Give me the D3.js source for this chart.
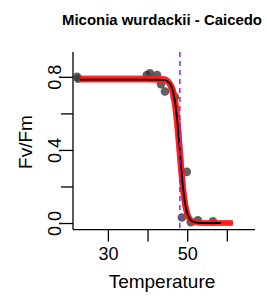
<!DOCTYPE html>
<html><head><meta charset="utf-8">
<script src="https://cdn.jsdelivr.net/npm/d3@7"></script>
<style>body{margin:0;background:#fff}svg{display:block}text{font-family:"Liberation Sans",Arial,sans-serif;fill:#000}</style>
</head><body><div id="chart"></div>
<script>
const title = "Miconia wurdackii - Caicedo";
const xLabel = "Temperature";
const yLabel = "Fv/Fm";
const xTicks = [30, 40, 50, 60];
const xTickLabels = ["30", "", "50", ""];
const yTicks = [0, 0.2, 0.4, 0.6, 0.8];
const yTickLabels = ["0.0", "", "0.4", "", "0.8"];
const t50 = 48.15;

// observed measurements
const obsTemp  = [22.2, 22.5, 39.8, 40.6, 42.4, 43.4, 44.4, 46.9, 49.9, 48.65, 50.9, 52.7, 56.5];
const obsFvFm  = [0.80, 0.79, 0.81, 0.82, 0.81, 0.76, 0.72, 0.69, 0.28, 0.03, 0.005, 0.015, 0.01];

// fitted curve (black)
const fitTemp = [23, 40, 44, 45, 46, 46.5, 47, 47.5, 48, 48.5, 49, 49.5, 50, 50.5, 51, 52, 54, 58.5];
const fitFvFm = [0.785, 0.785, 0.783, 0.776, 0.748, 0.714, 0.654, 0.560, 0.434, 0.298, 0.183, 0.103, 0.055, 0.028, 0.014, 0.004, 0.0, 0.0];

// bootstrap curves (red)
const bootTemp = [23, 40, 44, 45, 46, 46.5, 47, 47.5, 48, 48.5, 49, 49.5, 50, 50.5, 51, 52, 54, 61.5];
const bootA = [0.790, 0.790, 0.783, 0.764, 0.702, 0.638, 0.542, 0.421, 0.295, 0.187, 0.110, 0.062, 0.033, 0.018, 0.010, 0.003, 0.0, 0.0];
const bootB = [0.780, 0.780, 0.779, 0.776, 0.765, 0.748, 0.715, 0.654, 0.554, 0.419, 0.277, 0.160, 0.085, 0.043, 0.021, 0.005, 0.0, 0.0];
const bootC = [0.800, 0.800, 0.798, 0.792, 0.763, 0.723, 0.647, 0.524, 0.368, 0.222, 0.117, 0.058, 0.027, 0.012, 0.006, 0.001, 0.0, 0.0];
const bootM = [0.785, 0.785, 0.783, 0.776, 0.748, 0.714, 0.654, 0.560, 0.434, 0.298, 0.183, 0.103, 0.055, 0.028, 0.014, 0.004, 0.0, 0.0];

const W = 267, H = 296;
const svg = d3.select("#chart").append("svg").attr("width", W).attr("height", H);

const x = d3.scaleLinear().domain([21.2, 67.1]).range([73, 255]);
const y = d3.scaleLinear().domain([-0.036, 0.936]).range([229.6, 52]);

// title
svg.append("text").attr("x", 162).attr("y", 25).attr("text-anchor", "middle")
  .attr("font-weight", "bold").attr("font-size", 14).attr("textLength", 200)
  .attr("lengthAdjust", "spacingAndGlyphs").text(title);

// axes
const xAxis = d3.axisBottom(x).tickValues(xTicks).tickSize(12).tickSizeOuter(0)
  .tickFormat((d, i) => xTickLabels[i]);
const gx = svg.append("g").attr("transform", `translate(0,${y.range()[0]})`).call(xAxis);
gx.select(".domain").attr("stroke", "#000").attr("stroke-width", 1.3);
gx.selectAll(".tick line").attr("stroke", "#000").attr("stroke-width", 1.3);
gx.selectAll(".tick text").attr("font-size", 18).attr("font-family", "Liberation Sans, Arial, sans-serif")
  .attr("y", 0).attr("dy", null).attr("transform", "translate(0,30)").attr("fill", "#000");

const yAxis = d3.axisLeft(y).tickValues(yTicks).tickSize(12).tickSizeOuter(0)
  .tickFormat((d, i) => yTickLabels[i]);
const gy = svg.append("g").attr("transform", `translate(${x.range()[0]},0)`).call(yAxis);
gy.select(".domain").attr("stroke", "#000").attr("stroke-width", 1.3);
gy.selectAll(".tick line").attr("stroke", "#000").attr("stroke-width", 1.3);
gy.selectAll(".tick text").attr("font-size", 18).attr("font-family", "Liberation Sans, Arial, sans-serif")
  .attr("x", null).attr("dy", null).attr("text-anchor", "middle")
  .attr("transform", "translate(-12,0) rotate(-90)").attr("fill", "#000");
gx.select(".domain").attr("d", `M${x.range()[0]},0H${x.range()[1]}`);
gy.select(".domain").attr("d", `M0,${y.range()[0]}V${y.range()[1]}`);

// axis labels
svg.append("text").attr("x", 162).attr("y", 288).attr("text-anchor", "middle")
  .attr("font-size", 19).text(xLabel);
svg.append("text").attr("transform", "translate(32,142) rotate(-90)").attr("text-anchor", "middle")
  .attr("font-size", 19).text(yLabel);

// points
svg.append("g").selectAll("circle").data(obsTemp).join("circle")
  .attr("cx", d => x(d)).attr("cy", (d, i) => y(obsFvFm[i])).attr("r", 4.3)
  .attr("fill", "#3a3a3a").attr("fill-opacity", 0.8);

const line = d3.line().x(d => x(d[0])).y(d => y(d[1])).curve(d3.curveMonotoneX);
const boots = [bootM, bootA, bootB, bootC];
boots.forEach((b, j) => {
  svg.append("path").attr("d", line(bootTemp.map((t, i) => [t, b[i]])))
    .attr("fill", "none").attr("stroke", "#ff1a1a").attr("stroke-opacity", 0.85)
    .attr("stroke-width", j === 0 ? 6 : 2.5);
});
svg.append("path").attr("d", line(fitTemp.map((t, i) => [t, fitFvFm[i]])))
  .attr("fill", "none").attr("stroke", "#000").attr("stroke-width", 1.8);

// T50 dashed line
svg.append("line").attr("x1", x(t50)).attr("x2", x(t50)).attr("y1", y.range()[1]).attr("y2", y.range()[0])
  .attr("stroke", "#a020f0").attr("stroke-width", 1.5).attr("stroke-dasharray", "5,4");
</script></body></html>
